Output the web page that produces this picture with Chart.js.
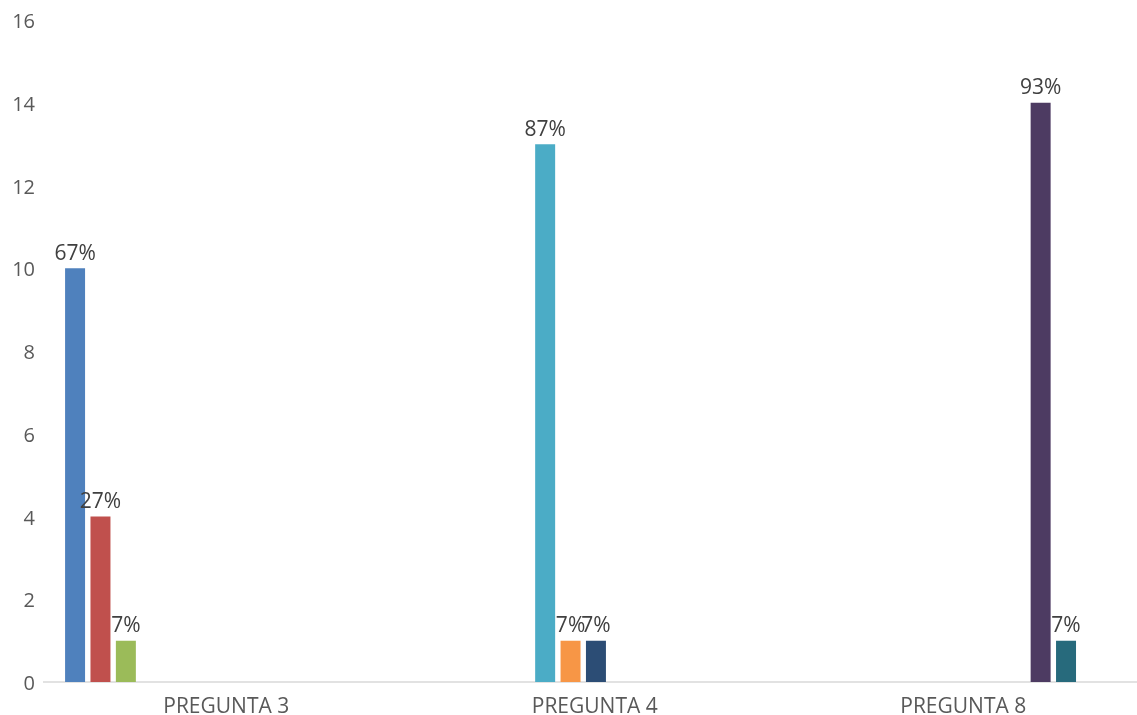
<!DOCTYPE html>
<html>
<head>
<meta charset="utf-8">
<script src="https://cdn.jsdelivr.net/npm/chart.js@4.4.1/dist/chart.umd.min.js"></script>
<style>
  html, body { margin: 0; padding: 0; background: #ffffff; }
  #wrap { width: 1137px; height: 715px; position: relative; }
</style>
</head>
<body>
<div id="wrap"><canvas id="chart"></canvas></div>
<script>
// categories and tick values
const categories = ['PREGUNTA 3', 'PREGUNTA 4', 'PREGUNTA 8'];
const yTicks = [0, 2, 4, 6, 8, 10, 12, 14, 16];

// one series per answer option, as in the source workbook
const seriesNames = ['Serie 1', 'Serie 2', 'Serie 3', 'Serie 4', 'Serie 5', 'Serie 6',
                     'Serie 7', 'Serie 8', 'Serie 9', 'Serie 10', 'Serie 11', 'Serie 12'];
const seriesValues = [
    [10, null, null],
    [4, null, null],
    [1, null, null],
    [null, null, null],
    [null, 13, null],
    [null, 1, null],
    [null, 1, null],
    [null, null, null],
    [null, null, null],
    [null, null, 14],
    [null, null, 1],
    [null, null, null]
];
const seriesLabels = [
    ['67%', '', ''],
    ['27%', '', ''],
    ['7%', '', ''],
    ['', '', ''],
    ['', '87%', ''],
    ['', '7%', ''],
    ['', '7%', ''],
    ['', '', ''],
    ['', '', ''],
    ['', '', '93%'],
    ['', '', '7%'],
    ['', '', '']
];
const seriesColors = ['#4F81BD', '#C0504D', '#9BBB59', '#8064A2', '#4BACC6', '#F79646',
                      '#2C4D75', '#772C2A', '#5F7530', '#4D3B62', '#276A7C', '#B65708'];

const FONT = "'Open Sans', 'Liberation Sans', sans-serif";

// percentage labels above the bars
const barLabels = {
    id: 'barLabels',
    afterDatasetsDraw(chart) {
        const ctx = chart.ctx;
        ctx.save();
        ctx.font = '21px ' + FONT;
        ctx.fillStyle = '#404040';
        ctx.textAlign = 'center';
        ctx.textBaseline = 'bottom';
        chart.data.datasets.forEach((ds, i) => {
            const meta = chart.getDatasetMeta(i);
            meta.data.forEach((bar, j) => {
                const txt = seriesLabels[i][j];
                if (!txt || ds.data[j] == null) return;
                ctx.fillText(txt, bar.x, bar.y - 4);
            });
        });
        ctx.restore();
    }
};

// axis line + value labels (the y scale box is narrow, so its own labels would be clipped)
const axisDecor = {
    id: 'axisDecor',
    beforeDatasetsDraw(chart) {
        const ctx = chart.ctx;
        const area = chart.chartArea;
        const y = chart.scales.y;
        ctx.save();
        ctx.strokeStyle = '#D9D9D9';
        ctx.lineWidth = 1.5;
        ctx.beginPath();
        ctx.moveTo(area.left + 12.5, area.bottom);
        ctx.lineTo(chart.width, area.bottom);
        ctx.stroke();

        ctx.font = '20px ' + FONT;
        ctx.fillStyle = '#595959';
        ctx.textAlign = 'right';
        ctx.textBaseline = 'middle';
        y.ticks.forEach(t => {
            ctx.fillText(String(t.value), area.left + 4.5, y.getPixelForValue(t.value) + 2.5);
        });
        ctx.restore();
    }
};

new Chart(document.getElementById('chart'), {
    type: 'bar',
    data: {
        labels: categories,
        datasets: seriesNames.map((name, i) => ({
            label: name,
            data: seriesValues[i],
            backgroundColor: seriesColors[i],
            categoryPercentage: 0.827,
            barPercentage: 0.787
        }))
    },
    options: {
        responsive: true,
        maintainAspectRatio: false,
        animation: false,
        layout: { padding: { top: 20, right: 1, left: 0, bottom: 0 } },
        plugins: {
            legend: { display: false },
            tooltip: { enabled: false }
        },
        scales: {
            x: {
                grid: { display: false, drawTicks: false },
                border: { display: false },
                ticks: {
                    color: '#595959',
                    font: { family: FONT, size: 21 },
                    padding: 12,
                    labelOffset: 11.5,
                    maxRotation: 0
                },
                afterFit(scale) { scale.height = 33; }
            },
            y: {
                min: 0,
                max: 16,
                grid: { display: false, drawTicks: false },
                border: { display: false },
                afterBuildTicks(scale) { scale.ticks = yTicks.map(v => ({ value: v })); },
                ticks: { display: false },
                afterFit(scale) { scale.width = 30.5; }
            }
        }
    },
    plugins: [axisDecor, barLabels]
});
</script>
</body>
</html>
